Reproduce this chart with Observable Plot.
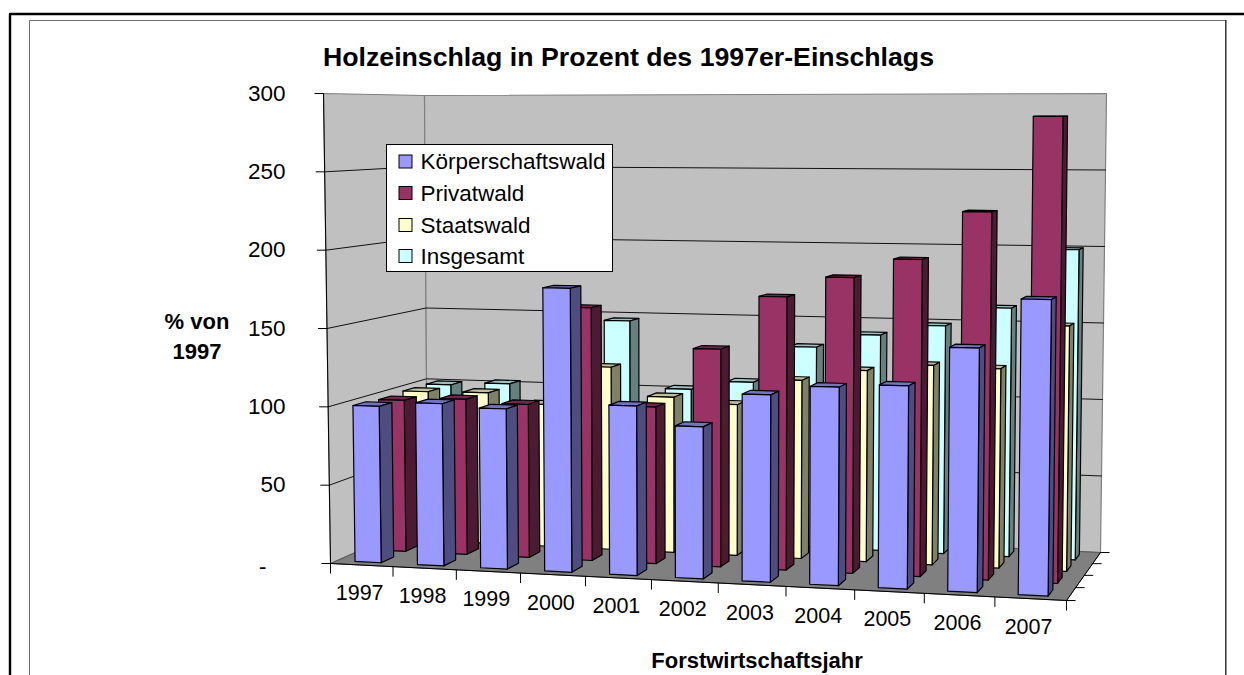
<!DOCTYPE html>
<html><head><meta charset="utf-8">
<style>html,body{margin:0;padding:0;background:#fff}svg{display:block}</style>
<script src="https://cdn.jsdelivr.net/npm/d3@7"></script>
<script src="https://cdn.jsdelivr.net/npm/@observablehq/plot@0.6"></script>
</head><body><div id="c"></div>
<script>
const years = ["1997","1998","1999","2000","2001","2002","2003","2004","2005","2006","2007"];
const koerperschaftswald = [100,103,101,178,105.5,94,115,121,123,147,177];
const privatwald = [99,101,99,162.5,100,138,172,185,197,227,286];
const staatswald = [100,100.5,94,120,101.5,98,115,122.5,127,126,154];
const insgesamt = [100,102,100,147,102,108,132.5,141.5,148.5,161,199.5];
const seriesNames = ["Körperschaftswald","Privatwald","Staatswald","Insgesamt"];
const seriesValues = [koerperschaftswald,privatwald,staatswald,insgesamt];
const front = ["#9999FF","#993366","#FFFFCC","#CCFFFF"];
const side = ["#4D4D80","#4D1A33","#808066","#668080"];
const top_ = ["#7373BF","#73264D","#BFBF99","#99BFBF"];
const valueTicks = [0,50,100,150,200,250,300];
const valueLabels = ["-","50","100","150","200","250","300"];

// perspective box of the chart: corners [category, value, depth]
const C = {
  "000":[330,563],"100":[1066,600],"001":[427,520],"101":[1100,552],
  "010":[323,93],"110":[1072,93],"011":[424,95],"111":[1106,93]
};
const persp = (t,k)=>k*t/(1+(k-1)*t);
function P(u,val,w){
  const a=persp(u,0.928), b=val/300, c=persp(w,1.1);
  const out=[0,0];
  for(const i of [0,1]) for(const j of [0,1]) for(const l of [0,1]){
    const f=(i?a:1-a)*(j?b:1-b)*(l?c:1-c), p=C[`${i}${j}${l}`];
    out[0]+=f*p[0]; out[1]+=f*p[1];
  }
  return out;
}
const poly=(id,fill,pts)=>[...pts,pts[0]].map(p=>({id,fill,x:p[0],y:p[1]}));
const n=years.length, barW=0.42, barD=0.5;
const faces=[];
for(let s=3;s>=0;s--){
  const w0=(s+(1-barD)/2)/4, w1=(s+(1+barD)/2)/4;
  years.forEach((yr,i)=>{
    const v=seriesValues[s][i];
    const u0=(i+(1-barW)/2)/n, u1=(i+(1+barW)/2)/n;
    const id=`${s}-${i}-`;
    faces.push(...poly(id+"t",top_[s],[P(u0,v,w0),P(u1,v,w0),P(u1,v,w1),P(u0,v,w1)]));
    faces.push(...poly(id+"s",side[s],[P(u1,0,w0),P(u1,0,w1),P(u1,v,w1),P(u1,v,w0)]));
    faces.push(...poly(id+"f",front[s],[P(u0,0,w0),P(u1,0,w0),P(u1,v,w0),P(u0,v,w0)]));
  });
}
const walls=[
  ...poly("left","#C0C0C0",[P(0,0,0),P(0,0,1),P(0,300,1),P(0,300,0)]),
  ...poly("back","#C0C0C0",[P(0,0,1),P(1,0,1),P(1,300,1),P(0,300,1)])
];
const floor=poly("floor","#808080",[P(0,0,0),P(1,0,0),P(1,0,1),P(0,0,1)]);
const grid=valueTicks.filter(v=>v>0&&v<300).flatMap(v=>[P(0,v,0),P(0,v,1),P(1,v,1)].map(p=>({v,x:p[0],y:p[1]})));
const edgeLine=(pts)=>pts.map(p=>({x:p[0],y:p[1]}));
const yTicks=valueTicks.map((v,i)=>{const p=P(0,v,0);return {x1:p[0]-9,x2:p[0],y:p[1],label:valueLabels[i],v};});
const xTicksData=d3.range(n+1).map(i=>{const p=P(i/n,0,0);return {x:p[0],y1:p[1],y2:p[1]+10};});
const zTicks=d3.range(5).map(i=>{const p=P(1,0,i/4);return {x1:p[0],x2:p[0]+9,y:p[1]};});
const xLabels=years.map((yr,i)=>{const p=P((i+.5)/n,0,0);return {x:p[0]-2,y:p[1]+28,t:yr};});

const legendRows=seriesNames.map((t,i)=>({t,i,fill:front[i]}));
const legendY=[161.5,193,225,256];
const FONT="Liberation Sans, Arial, sans-serif";

const plot=Plot.plot({
  width:1244,height:675,margin:0,
  style:{fontFamily:FONT,background:"#fff",overflow:"hidden"},
  x:{domain:[0,1244],range:[0,1244],axis:null},
  y:{domain:[0,675],range:[0,675],axis:null},
  color:{type:"identity"},
  marks:[
    // page frames
    Plot.line([{x:9.5,y:675},{x:9.5,y:13.5},{x:1244,y:13.5}],{x:"x",y:"y",stroke:"#000",strokeWidth:2.4}),
    Plot.line([{x:29,y:675},{x:29,y:20},{x:1225,y:20}],{x:"x",y:"y",stroke:"#6e6e6e",strokeWidth:1}),
    Plot.line([{x:1225.3,y:20},{x:1225.3,y:675}],{x:"x",y:"y",stroke:"#333",strokeWidth:1.5}),
    // walls
    Plot.line(walls,{x:"x",y:"y",z:"id",fill:"fill",stroke:"#808080",strokeWidth:1.2}),
    Plot.line(floor,{x:"x",y:"y",z:"id",fill:"fill",stroke:"#555",strokeWidth:1}),
    Plot.line(grid,{x:"x",y:"y",z:"v",stroke:"#111",strokeWidth:1}),
    // axis edges and ticks
    Plot.line(edgeLine([P(0,300,0),P(0,0,0),P(1,0,0),P(1,0,1)]),{x:"x",y:"y",stroke:"#000",strokeWidth:1}),
    Plot.link(yTicks,{x1:"x1",x2:"x2",y1:"y",y2:"y",stroke:"#000",strokeWidth:1}),
    Plot.link(xTicksData,{x1:"x",x2:"x",y1:"y1",y2:"y2",stroke:"#000",strokeWidth:1}),
    Plot.link(zTicks,{x1:"x1",x2:"x2",y1:"y",y2:"y",stroke:"#000",strokeWidth:1}),
    // bars, back row first
    Plot.line(faces,{x:"x",y:"y",z:"id",fill:"fill",stroke:"#000",strokeWidth:1.2,strokeLinejoin:"round"}),
    // labels
    Plot.text(yTicks.filter(d=>d.v>0),{x:()=>285,y:"y",text:"label",textAnchor:"end",fontSize:22.5,fill:"#000"}),
    Plot.text(yTicks.filter(d=>d.v==0),{x:()=>266,y:d=>d.y+3,text:"label",textAnchor:"end",fontSize:22.5,fill:"#000"}),
    Plot.text(xLabels,{x:"x",y:"y",text:"t",fontSize:21.5,fill:"#000"}),
    Plot.text(["Holzeinschlag in Prozent des 1997er-Einschlags"],{x:()=>628,y:()=>57,text:d=>d,fontSize:26.7,fontWeight:"bold",fill:"#000"}),
    Plot.text(["% von"],{x:()=>196.5,y:()=>321,text:d=>d,fontSize:22,fontWeight:"bold",fill:"#000"}),
    Plot.text(["1997"],{x:()=>196.5,y:()=>351,text:d=>d,fontSize:22,fontWeight:"bold",fill:"#000"}),
    Plot.text(["Forstwirtschaftsjahr"],{x:()=>756.5,y:()=>660,text:d=>d,fontSize:22,fontWeight:"bold",fill:"#000"}),
    // legend
    Plot.rect([0],{x1:()=>386.5,x2:()=>612.5,y1:()=>144.5,y2:()=>271.5,fill:"#fff",stroke:"#000",strokeWidth:1}),
    Plot.rect(legendRows,{x1:()=>399,x2:()=>412,y1:d=>legendY[d.i]-6.5,y2:d=>legendY[d.i]+6.5,fill:"fill",stroke:"#000",strokeWidth:1}),
    Plot.text(legendRows,{x:()=>420,y:d=>legendY[d.i],text:"t",textAnchor:"start",fontSize:22.5,fill:"#000"})
  ]
});
document.getElementById("c").appendChild(plot);
</script></body></html>
